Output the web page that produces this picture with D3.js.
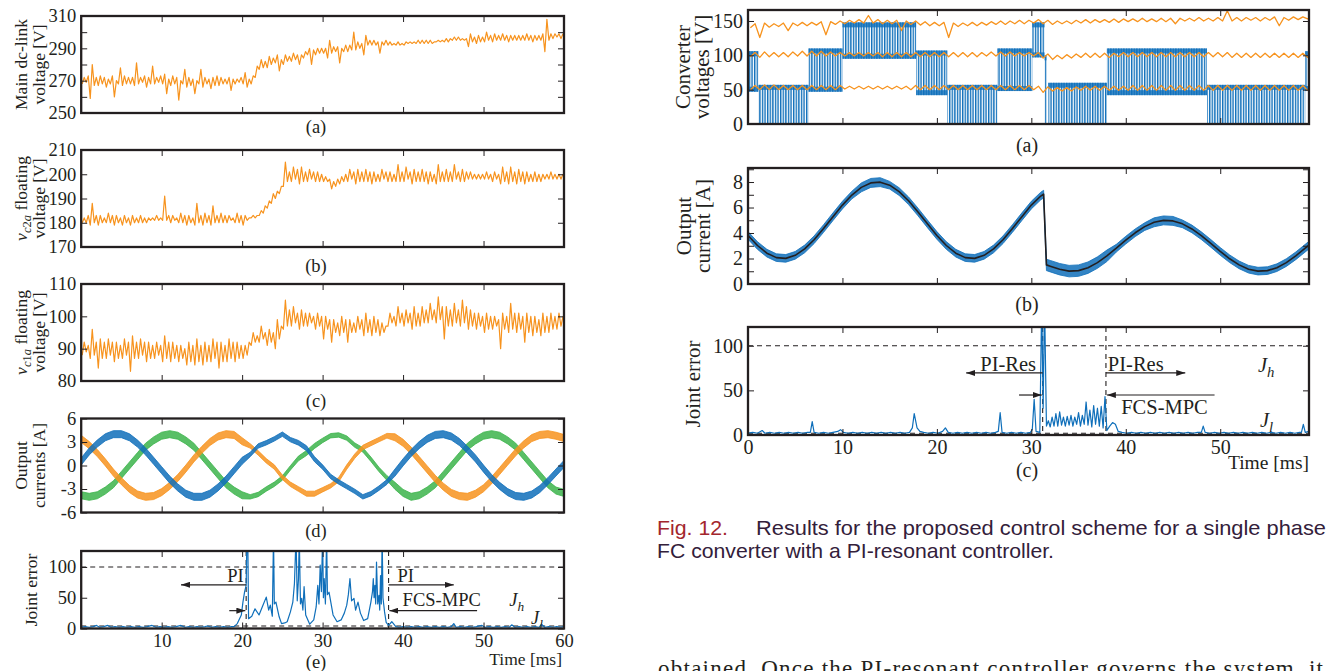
<!DOCTYPE html>
<html>
<head>
<meta charset="utf-8">
<script src="https://cdn.jsdelivr.net/npm/d3@7"></script>
<style>
  body { margin: 0; background: #fff; }
  svg { display: block; }
</style>
</head>
<body>
<svg id="fig" width="1327" height="671"></svg>
<script>
// ---- data ----
// left column, 0.5 ms bins (min / max of the trace inside each bin)
const dcLinkLo = [268,269,259,267,267,268,266,268,260,268, 267,268,268,267,268,269,266,268,268,269,
  268,262,267,268,258,268,266,267,262,268, 266,268,265,267,267,268,268,264,268,269,
  268,266,268,272,277,278,278,280,281,276, 280,282,282,283,280,284,286,280,286,287,
  287,284,287,288,281,288,288,289,289,290, 286,292,292,292,287,292,292,292,292,292,
  292,293,293,293,293,293,293,293,294,294, 294,294,295,295,295,295,291,294,293,294,
  294,295,294,295,295,295,294,295,295,295, 295,295,294,295,295,288,295,296,297,296];
const dcLinkHi = [272,273,280,272,273,272,271,273,270,278, 273,272,272,281,272,273,272,279,272,273,
  274,271,273,272,270,277,272,271,270,277, 272,271,272,273,272,271,272,271,271,272,
  275,271,273,279,283,282,285,284,286,283, 286,285,287,286,286,288,290,289,290,290,
  290,295,291,291,290,292,292,300,294,293, 298,295,295,294,294,295,294,293,294,293,
  294,294,294,295,295,295,295,294,295,295, 296,296,297,297,296,296,299,297,298,297,
  300,298,299,298,299,298,298,298,298,298, 299,298,298,298,299,308,299,299,299,299];

const vc2aLo = [180,180,179,180,179,180,180,180,179,180, 179,180,179,180,180,180,180,181,181,181,
  181,181,180,181,180,180,179,180,179,180, 179,180,179,180,180,180,180,181,180,180,
  179,181,182,182,183,184,186,188,190,192, 195,197,197,198,196,197,197,198,197,197,
  197,197,194,195,196,197,197,198,196,197, 197,197,196,197,197,198,197,197,197,197,
  197,198,196,197,197,197,196,197,196,197, 197,197,197,198,197,197,198,198,198,198,
  198,198,197,198,196,197,196,197,196,197, 196,197,197,197,197,198,198,198,198,198];
const vc2aHi = [182,183,188,183,183,182,184,183,183,182, 183,182,183,182,183,182,182,182,183,182,
  191,183,183,182,184,183,183,182,188,183, 184,183,187,183,184,183,183,182,184,183,
  183,182,183,183,185,187,189,192,193,195, 205,201,203,202,203,201,202,201,201,200,
  199,198,197,198,199,200,202,201,202,201, 202,201,201,200,202,201,201,200,204,201,
  203,201,202,201,202,201,201,200,204,201, 202,201,204,201,202,201,201,200,200,200,
  201,200,201,200,203,201,203,201,202,201, 201,200,201,200,200,200,201,200,200,200];

const vc1aLo = [88,89,87,88,84,87,87,88,86,87, 87,88,83,87,87,88,86,87,87,88,
  86,87,86,87,86,87,85,86,85,86, 85,86,86,87,84,86,86,87,86,87,
  87,88,91,92,92,93,91,92,90,93, 96,97,97,98,96,97,97,98,96,97,
  93,96,92,95,94,95,92,95,95,96, 94,95,94,95,94,95,97,98,97,98,
  97,98,96,97,97,98,98,99,98,99, 93,97,97,98,97,98,96,97,96,97,
  95,96,96,97,90,96,95,96,95,96, 92,95,94,95,94,95,95,96,96,97];
const vc1aHi = [92,91,96,92,93,92,93,92,92,91, 93,92,94,92,93,92,92,91,92,91,
  94,92,92,91,91,90,92,91,93,91, 92,91,93,92,92,91,93,92,92,91,
  91,92,95,94,97,95,96,95,99,97, 105,102,103,101,102,101,101,100,101,100,
  100,99,99,98,100,99,99,98,100,99, 101,99,100,99,98,97,101,100,103,101,
  102,101,103,101,103,102,104,102,106,103, 103,102,104,102,105,103,102,101,101,100,
  101,100,100,99,101,100,104,101,101,100, 101,100,100,99,101,100,101,100,101,100];

// output currents, value at every ms (0..60) and ripple half-width
const iBlue   = [0.5,1.8,2.8,3.6,4.0,4.0,3.6,2.8,1.8,0.6,-0.6,-1.8,-2.8,-3.6,-4.0,-4.0,-3.6,-2.8,-1.8,-0.6,0.6,1.4,2.5,2.9,3.4,4.0,3.3,2.9,2.2,0.8,-0.2,-1.4,-2.1,-2.7,-3.3,-4.0,-3.6,-2.9,-2.1,-0.9,0.4,1.6,2.6,3.4,3.9,4.0,3.7,3.0,2.0,0.9,-0.4,-1.6,-2.6,-3.4,-3.9,-4.0,-3.7,-3.0,-2.0,-0.9,0.2];
const iOrange = [3.4,2.6,1.6,0.4,-0.9,-2.0,-3.0,-3.7,-4.0,-3.9,-3.4,-2.6,-1.6,-0.4,0.9,2.0,3.0,3.7,4.0,3.9,3.1,2.5,1.6,0.6,-0.2,-1.5,-2.4,-3.0,-3.6,-3.6,-3.1,-2.6,-1.8,-0.2,1.2,2.3,2.8,3.3,3.8,3.6,2.9,1.9,0.7,-0.5,-1.7,-2.7,-3.5,-3.9,-4.0,-3.6,-2.9,-1.9,-0.7,0.5,1.7,2.7,3.5,3.9,4.0,3.8,3.5];
const iGreen  = [-3.8,-4.0,-3.8,-3.2,-2.4,-1.2,0,1.2,2.4,3.2,3.8,4.0,3.8,3.2,2.4,1.2,0,-1.2,-2.4,-3.2,-3.8,-4.0,-3.7,-3.0,-2.4,-1.6,-0.3,0.9,1.6,2.5,3.2,3.8,3.9,3.5,2.6,2.0,0.8,-0.5,-1.6,-2.6,-3.5,-4.0,-3.8,-3.2,-2.4,-1.2,0,1.2,2.4,3.2,3.8,4.0,3.8,3.2,2.4,1.2,0,-1.2,-2.4,-3.2,-3.5];
const iRipple = [0.45,0.45,0.45,0.45,0.45,0.45,0.45,0.45,0.45,0.45,0.45,0.45,0.45,0.45,0.45,0.45,0.45,0.45,0.45,0.45,0.45,0.28,0.28,0.28,0.28,0.28,0.28,0.3,0.32,0.32,0.28,0.28,0.28,0.28,0.28,0.28,0.28,0.28,0.3,0.45,0.45,0.45,0.45,0.45,0.45,0.45,0.45,0.45,0.45,0.45,0.45,0.45,0.45,0.45,0.45,0.45,0.45,0.45,0.45,0.45,0.45];

// joint error [ms, value]
const jointLeft = [[0,2],[0.5,3],[1,2],[1.5,3],[1.9,5],[2.3,2],[2.8,3],[3.3,5],[3.7,2],[4.2,3],[4.7,2],[5.2,3],[5.7,2],[6.2,3],[6.7,2],[7.2,3],[7.7,2],[8.2,3],[8.8,5],[9.3,2],[9.8,3],[10.3,2],[10.8,3],[11.3,2],[11.8,3],[12.4,5],[12.9,2],[13.4,3],[13.9,2],[14.4,3],[14.9,2],[15.4,3],[15.7,4],[16.2,2],[16.7,3],[17.2,2],[17.7,3],[18.2,2],[18.7,3],[19,3],[19.4,8],[19.9,22],[20.1,43],[20.3,59],[20.5,70],[20.6,150],[20.7,150],[20.8,16],[21.2,20],[21.6,32],[22.1,22],[22.5,35],[23,51],[23.3,30],[23.5,38],[23.75,20],[23.9,150],[24,40],[24.2,43],[24.6,19],[24.9,8],[25.3,9],[25.6,11],[26,27],[26.3,43],[26.5,73],[26.7,150],[26.85,45],[27,80],[27.1,150],[27.25,40],[27.4,49],[27.55,30],[27.7,68],[27.9,22],[28.4,7],[28.9,14],[29.2,35],[29.4,70],[29.55,40],[29.7,103],[29.85,60],[30,150],[30.1,50],[30.2,81],[30.35,40],[30.5,150],[30.6,55],[30.8,59],[31.3,22],[31.8,11],[32.3,14],[32.7,25],[33,38],[33.2,55],[33.4,81],[33.6,45],[33.9,49],[34.1,30],[34.4,43],[34.7,25],[35.1,13],[35.6,16],[36,43],[36.2,60],[36.3,81],[36.4,50],[36.5,70],[36.6,40],[36.7,108],[36.85,40],[37,54],[37.1,30],[37.2,86],[37.3,40],[37.4,150],[37.5,50],[37.7,27],[37.9,10],[38.2,5],[38.6,11],[39.1,3],[39.5,2],[40,3],[40.5,2],[41,3],[41.5,2],[42,3],[42.5,2],[43,3],[43.5,2],[44,3],[44.5,2],[45,3],[45.5,2],[46,3],[46.3,8],[46.6,2],[47.1,3],[47.6,2],[48.1,3],[48.6,2],[49.1,3],[49.8,5],[50.2,2],[50.7,3],[51.2,2],[51.7,3],[52.2,2],[52.7,3],[53.2,2],[53.5,6],[53.9,2],[54.4,3],[54.9,2],[55.4,3],[55.9,2],[56.4,3],[56.9,2],[57.2,7],[57.6,2],[58.1,3],[58.6,2],[59.1,3],[59.6,2],[60,3]];
const jointLeftSwitch = [20.5, 38.2];
const jointLeftLevels = [100, 4];

// right column: converter voltages, 1 ms bins
const convTopLo = [140,126,141,142,136,143,143,144,130,145,146,147,147,147,146,146,136,145,144,143,143,126,142,143,143,144,145,145,146,146,147,146,145,146,146,147,147,148,148,148,149,149,149,149,149,146,150,150,150,150,150,150,150,151,150,151,143,151,152,153];
const convTopHi = [146,147,146,147,147,148,148,149,149,150,151,152,158,152,151,151,150,150,149,148,148,147,147,148,148,149,150,150,151,151,152,151,150,150,151,152,152,152,153,153,153,154,153,154,154,154,154,155,154,155,165,155,155,155,155,156,155,156,156,157];
const convMidLo = [98,97,98,98,98,99,99,99,99,99,99,99,99,99,98,98,98,98,98,98,98,98,98,98,98,99,99,99,99,99,99,96,94,95,96,97,97,97,97,98,98,98,98,98,98,98,98,98,98,98,98,97,97,97,97,97,97,97,97,97];
const convMidHi = [104,105,104,104,105,106,106,106,105,104,104,104,104,104,104,104,104,104,104,104,104,104,104,104,104,105,105,105,104,104,104,102,100,101,102,103,103,103,103,104,104,104,104,104,104,104,104,104,104,104,104,103,103,103,103,103,103,103,103,103];
const convLowLo = [50,50,50,50,50,50,50,50,50,50,51,51,51,51,51,51,51,50,50,50,50,50,50,50,50,50,50,50,50,50,50,46,48,48,48,49,49,49,49,49,49,49,49,49,49,49,49,49,49,49,49,49,49,49,49,49,49,49,49,49];
const convLowHi = [56,57,57,56,56,56,56,56,56,56,55,55,55,55,55,55,55,56,56,56,56,56,56,56,56,56,56,56,56,56,55,54,53,53,54,55,55,55,55,55,56,56,56,56,56,56,56,56,56,56,56,56,56,56,56,56,56,56,56,56];
// switching intervals of the output voltage [from ms, to ms, low V, high V]
const convSwitching = [[0,1.1,47,106],[1.1,6.4,0,57],[6.4,10,47,110],[10,17.8,95,148],[17.8,21.1,42,107],[21.1,26.4,0,57],[26.4,30.1,48,110],[30.1,31.4,97,148],[31.4,31.6,0,100],[31.8,38,0,60],[38,48.6,42,110],[48.6,59,0,57],[59,59.4,48,106]];

// output current and its reference
const ioutT   = [0,1,2,3,4,5,6,7,8,9,10,11,12,13,14,15,16,17,18,19,20,21,22,23,24,25,26,27,28,29,30,31,31.3,31.6,32,33,34,35,36,37,38,39,40,41,42,43,44,45,46,47,48,49,50,51,52,53,54,55,56,57,58,59,59.4];
const ioutRef = [3.81,3.02,2.42,2.07,2.01,2.25,2.75,3.47,4.35,5.28,6.19,6.98,7.58,7.93,7.99,7.75,7.25,6.53,5.65,4.72,3.81,3.02,2.42,2.07,2.01,2.25,2.75,3.47,4.35,5.28,6.19,6.9,7.05,1.5,1.4,1.16,1.01,1.05,1.28,1.68,2.21,2.81,3.44,4.02,4.5,4.84,4.99,4.95,4.72,4.32,3.79,3.19,2.56,1.98,1.5,1.16,1.01,1.05,1.28,1.68,2.21,2.81,3.05];
const ioutRip = [0.3,0.3,0.3,0.3,0.3,0.3,0.3,0.3,0.3,0.3,0.3,0.3,0.35,0.35,0.35,0.3,0.3,0.3,0.3,0.3,0.3,0.3,0.3,0.3,0.3,0.3,0.3,0.3,0.3,0.3,0.3,0.3,0.3,0.45,0.45,0.45,0.45,0.45,0.45,0.45,0.45,0.3,0.3,0.3,0.3,0.35,0.35,0.35,0.3,0.3,0.3,0.3,0.3,0.3,0.3,0.3,0.3,0.3,0.3,0.3,0.3,0.3,0.3];

const jointRight = [[0,2],[0.5,3],[1,2],[1.5,5],[1.8,2],[2.3,3],[2.8,2],[3.3,3],[3.8,2],[4.3,3],[4.8,2],[5.3,3],[5.8,2],[6.3,3],[6.6,3],[6.8,15],[7,3],[7.5,2],[8,3],[8.5,2],[9,3],[9.5,4],[9.8,6],[10.1,3],[10.6,2],[11.1,3],[11.6,2],[12.1,3],[12.6,2],[13.1,3],[13.6,2],[14.1,3],[14.6,2],[15.1,3],[15.6,2],[16.1,3],[16.6,2],[17.1,3],[17.4,8],[17.6,24],[17.9,8],[18.2,4],[18.6,3],[19.1,2],[19.6,3],[20.1,2],[20.6,4],[20.9,8],[21.2,3],[21.7,2],[22.2,3],[22.7,2],[23.2,3],[23.7,2],[24.2,3],[24.7,2],[25.2,3],[25.7,2],[26.2,3],[26.5,4],[26.7,25],[26.9,3],[27.4,2],[27.9,3],[28.4,2],[28.9,3],[29.4,2],[29.9,3],[30.1,6],[30.3,40],[30.5,4],[30.9,3],[31.1,150],[31.25,30],[31.4,150],[31.6,10],[31.8,16],[32,9],[32.2,20],[32.4,10],[32.6,24],[32.8,10],[33,26],[33.2,11],[33.4,20],[33.6,10],[33.8,21],[34,11],[34.2,22],[34.4,10],[34.6,20],[34.8,12],[35,25],[35.2,10],[35.4,22],[35.6,12],[35.8,37],[36,11],[36.2,28],[36.4,9],[36.6,33],[36.8,12],[37,30],[37.2,10],[37.4,32],[37.6,8],[37.8,43],[38,5],[38.3,10],[38.6,14],[38.9,12],[39.2,4],[39.6,3],[40.1,2],[40.6,3],[41.1,2],[41.6,3],[42.1,2],[42.6,3],[43.1,2],[43.6,3],[44.1,2],[44.6,3],[45.1,2],[45.6,3],[46.1,2],[46.6,3],[47.1,2],[47.6,3],[48,3],[48.2,10],[48.4,3],[48.9,2],[49.4,3],[49.9,2],[50.4,3],[50.9,2],[51.4,3],[51.9,2],[52.4,3],[52.9,2],[53.4,3],[53.9,2],[54.4,3],[54.9,2],[55.4,3],[55.9,2],[56.4,3],[56.9,2],[57.4,3],[57.9,2],[58.4,3],[58.6,3],[58.8,12],[59,3],[59.4,4]];
const jointRightSwitch = [31.2, 37.9];
const jointRightLevels = [100, 2];

// ---- drawing ----
const INK = '#231f20';
const ORANGE = '#f7931e';
const BLUE = '#0f6fba';
const GREEN = '#3cb44b';
const SERIF = '"Liberation Serif", "Times New Roman", serif';
const SANS = '"Liberation Sans", Arial, sans-serif';
const TICK = 6;

const svg = d3.select('#fig');
const defs = svg.append('defs');

defs.append('marker')
  .attr('id', 'head')
  .attr('markerUnits', 'userSpaceOnUse')
  .attr('markerWidth', 9).attr('markerHeight', 6)
  .attr('refX', 9).attr('refY', 3)
  .attr('orient', 'auto')
  .append('path').attr('d', 'M0,0L9,3L0,6Z').attr('fill', INK);

defs.append('pattern')
  .attr('id', 'hatch')
  .attr('patternUnits', 'userSpaceOnUse')
  .attr('width', 2.6).attr('height', 10)
  .append('rect').attr('width', 1.4).attr('height', 10).attr('fill', BLUE);

function panel(o) {
  const x = d3.scaleLinear().domain(o.xd).range([o.x0, o.x1]);
  const y = d3.scaleLinear().domain(o.yd).range([o.y1, o.y0]);
  const cid = 'clip-' + o.id;
  defs.append('clipPath').attr('id', cid).append('rect')
    .attr('x', o.x0).attr('y', o.y0)
    .attr('width', o.x1 - o.x0).attr('height', o.y1 - o.y0);

  const g = svg.append('g');
  const plot = g.append('g').attr('clip-path', `url(#${cid})`);
  const axes = g.append('g');
  const ylab = v => (o.yl.includes(v) ? String(v) : '');

  axes.append('g').attr('transform', `translate(${o.x0},0)`)
    .call(d3.axisLeft(y).tickValues(o.yt).tickSize(-TICK).tickPadding(5).tickFormat(ylab));
  axes.append('g').attr('transform', `translate(${o.x1},0)`)
    .call(d3.axisRight(y).tickValues(o.yt).tickSize(-TICK).tickFormat(''));
  axes.append('g').attr('transform', `translate(0,${o.y0})`)
    .call(d3.axisTop(x).tickValues(o.xt).tickSize(-TICK).tickFormat(''));
  axes.append('g').attr('transform', `translate(0,${o.y1})`)
    .call(d3.axisBottom(x).tickValues(o.xt).tickSize(-TICK).tickPadding(5)
      .tickFormat(o.xl ? d => String(d) : ''));

  axes.selectAll('.domain').remove();
  axes.selectAll('line').attr('stroke', INK).attr('stroke-width', 1);
  axes.selectAll('text').attr('font-family', SERIF).attr('font-size', o.fs).attr('fill', INK);

  g.append('rect')
    .attr('x', o.x0).attr('y', o.y0)
    .attr('width', o.x1 - o.x0).attr('height', o.y1 - o.y0)
    .attr('fill', 'none').attr('stroke', INK).attr('stroke-width', 2.3);

  return { x, y, plot, g, o };
}

// min / max of each bin, visited alternately
function zigzag(lo, hi, step) {
  return lo.flatMap((v, i) => [[(i + 0.25) * step, v], [(i + 0.75) * step, hi[i]]]);
}

function trace(p, pts, color, w) {
  p.plot.append('path')
    .datum(pts)
    .attr('d', d3.line().x(d => p.x(d[0])).y(d => p.y(d[1])))
    .attr('fill', 'none').attr('stroke', color)
    .attr('stroke-width', w || 1.2).attr('stroke-linejoin', 'round');
}

function band(p, ts, mid, rip, color) {
  p.plot.append('path')
    .datum(mid)
    .attr('d', d3.area()
      .x((d, i) => p.x(ts[i]))
      .y0((d, i) => p.y(d - rip[i]))
      .y1((d, i) => p.y(d + rip[i])))
    .attr('fill', color).attr('fill-opacity', 0.85)
    .attr('stroke', color).attr('stroke-width', 0.8);
}

function yTitle(lines, xs, cy, fs) {
  lines.forEach((ln, i) => {
    const t = svg.append('text')
      .attr('transform', `translate(${xs[i]},${cy}) rotate(-90)`)
      .attr('text-anchor', 'middle')
      .attr('font-family', SERIF).attr('font-size', fs).attr('fill', INK);
    if (typeof ln === 'string') { t.text(ln); return; }
    ln.forEach(part => {
      t.append('tspan')
        .attr('font-style', part.i ? 'italic' : null)
        .attr('font-size', part.sub ? fs * 0.72 : null)
        .attr('dy', part.dy || null)
        .text(part.s);
    });
  });
}

function sublabel(text, cx, y, fs) {
  svg.append('text').attr('x', cx).attr('y', y)
    .attr('text-anchor', 'middle')
    .attr('font-family', SERIF).attr('font-size', fs).attr('fill', INK)
    .text(text);
}

function note(p, text, t, v, anchor, fs) {
  p.g.append('text').attr('x', p.x(t)).attr('y', p.y(v))
    .attr('text-anchor', anchor)
    .attr('font-family', SERIF).attr('font-size', fs).attr('fill', INK)
    .text(text);
}

function jLabel(p, sub, t, v, fs) {
  const txt = p.g.append('text').attr('x', p.x(t)).attr('y', p.y(v))
    .attr('font-family', SERIF).attr('font-size', fs).attr('fill', INK)
    .attr('font-style', 'italic');
  txt.append('tspan').text('J');
  txt.append('tspan').attr('font-size', fs * 0.72).attr('dy', 5).text(sub);
}

function arrow(p, t0, t1, v) {
  p.g.append('line')
    .attr('x1', p.x(t0)).attr('x2', p.x(t1))
    .attr('y1', p.y(v)).attr('y2', p.y(v))
    .attr('stroke', INK).attr('stroke-width', 1.2)
    .attr('marker-end', 'url(#head)');
}

function guides(p, switches, levels) {
  levels.forEach(l => {
    p.plot.append('line')
      .attr('x1', p.o.x0).attr('x2', p.o.x1)
      .attr('y1', p.y(l)).attr('y2', p.y(l))
      .attr('stroke', INK).attr('stroke-width', 1.1).attr('stroke-dasharray', '5,4');
  });
  switches.forEach(s => {
    p.plot.append('line')
      .attr('x1', p.x(s)).attr('x2', p.x(s))
      .attr('y1', p.o.y0).attr('y2', p.o.y1)
      .attr('stroke', INK).attr('stroke-width', 1.1).attr('stroke-dasharray', '5,4');
  });
}

const leftCol = { x0: 81.2, x1: 564, xd: [0, 60], xt: [10, 20, 30, 40, 50, 60], fs: 18.5 };
const rightCol = { x0: 748, x1: 1309, xd: [0, 59.4], xt: [0, 10, 20, 30, 40, 50], fs: 20 };

// (a) main dc-link voltage
const pa = panel({ ...leftCol, id: 'la', y0: 16, y1: 113, yd: [250, 310],
  yt: [250, 260, 270, 280, 290, 300, 310], yl: [250, 270, 290, 310] });
trace(pa, zigzag(dcLinkLo, dcLinkHi, 0.5), ORANGE, 1.2);

// (b) vc2a
const pb = panel({ ...leftCol, id: 'lb', y0: 150, y1: 247, yd: [170, 210],
  yt: [170, 180, 190, 200, 210], yl: [170, 180, 190, 200, 210] });
trace(pb, zigzag(vc2aLo, vc2aHi, 0.5), ORANGE, 1.2);

// (c) vc1a
const pc = panel({ ...leftCol, id: 'lc', y0: 284, y1: 381, yd: [80, 110],
  yt: [80, 90, 100, 110], yl: [80, 90, 100, 110] });
trace(pc, zigzag(vc1aLo, vc1aHi, 0.5), ORANGE, 1.2);

// (d) output currents
const pd = panel({ ...leftCol, id: 'ld', y0: 418.5, y1: 512.5, yd: [-6, 6],
  yt: [-6, -3, 0, 3, 6], yl: [-6, -3, 0, 3, 6] });
const msGrid = d3.range(iBlue.length);
band(pd, msGrid, iGreen, iRipple, GREEN);
band(pd, msGrid, iOrange, iRipple, ORANGE);
band(pd, msGrid, iBlue, iRipple, BLUE);

// (e) joint error
const pe = panel({ ...leftCol, id: 'le', y0: 551, y1: 628.5, yd: [0, 126],
  yt: [0, 50, 100], yl: [0, 50, 100], xl: true });
guides(pe, jointLeftSwitch, jointLeftLevels);
trace(pe, jointLeft, BLUE, 1.2);
note(pe, 'PI', 20.2, 76, 'end', 18.5);
arrow(pe, 20.5, 12.4, 71);
note(pe, 'PI', 39.3, 76, 'start', 18.5);
arrow(pe, 38.2, 46.3, 71);
note(pe, 'FCS-MPC', 44.8, 36, 'middle', 18.5);
arrow(pe, 49.2, 38.3, 29);
arrow(pe, 18.4, 20.4, 29);
jLabel(pe, 'h', 53.2, 36, 18.5);
jLabel(pe, 'l', 55.9, 7, 18.5);
pe.g.append('text').attr('x', 562).attr('y', 665).attr('text-anchor', 'end')
  .attr('font-family', SERIF).attr('font-size', 17.5).attr('fill', INK).text('Time [ms]');

// right (a) converter voltages
const ra = panel({ ...rightCol, id: 'ra', y0: 10, y1: 124, yd: [0, 166],
  yt: [0, 50, 100, 150], yl: [0, 50, 100, 150] });
convSwitching.forEach(([t0, t1, lo, hi]) => {
  const xa = ra.x(t0), xb = ra.x(t1), ya = ra.y(hi), yb = ra.y(lo);
  ra.plot.append('rect').attr('x', xa).attr('y', ya)
    .attr('width', xb - xa).attr('height', yb - ya).attr('fill', 'url(#hatch)');
  ra.plot.append('rect').attr('x', xa).attr('y', ya)
    .attr('width', xb - xa).attr('height', 5).attr('fill', BLUE).attr('fill-opacity', 0.8);
  if (lo > 0) {
    ra.plot.append('rect').attr('x', xa).attr('y', yb - 5)
      .attr('width', xb - xa).attr('height', 5).attr('fill', BLUE).attr('fill-opacity', 0.8);
  }
});
trace(ra, zigzag(convTopLo, convTopHi, 1), ORANGE, 1.3);
trace(ra, zigzag(convMidLo, convMidHi, 1), ORANGE, 1.3);
trace(ra, zigzag(convLowLo, convLowHi, 1), ORANGE, 1.3);

// right (b) output current
const rb = panel({ ...rightCol, id: 'rb', y0: 168, y1: 284, yd: [0, 9.1],
  yt: [0, 1, 2, 3, 4, 5, 6, 7, 8, 9], yl: [0, 2, 4, 6, 8] });
band(rb, ioutT, ioutRef, ioutRip, BLUE);
trace(rb, ioutT.map((t, i) => [t, ioutRef[i]]), INK, 1.6);

// right (c) joint error
const rc = panel({ ...rightCol, id: 'rc', y0: 327, y1: 435, yd: [0, 121],
  yt: [0, 50, 100], yl: [0, 50, 100], xl: true });
guides(rc, jointRightSwitch, jointRightLevels);
trace(rc, jointRight, BLUE, 1.2);
note(rc, 'PI-Res', 30.5, 72, 'end', 20.5);
arrow(rc, 31.2, 23.1, 69.5);
note(rc, 'PI-Res', 38.1, 72, 'start', 20.5);
arrow(rc, 37.9, 46.3, 69.5);
note(rc, 'FCS-MPC', 44.1, 23.5, 'middle', 20.5);
arrow(rc, 49.4, 38.0, 44.8);
arrow(rc, 28.7, 31.1, 44.8);
jLabel(rc, 'h', 54.0, 71, 20.5);
jLabel(rc, 'l', 54.2, 9, 20.5);
rc.g.append('text').attr('x', 1309).attr('y', 469).attr('text-anchor', 'end')
  .attr('font-family', SERIF).attr('font-size', 19.5).attr('fill', INK).text('Time [ms]');

// axis titles
yTitle(['Main dc-link', 'voltage [V]'], [27, 45], 64.5, 17.5);
yTitle([[{ s: 'v', i: 1 }, { s: 'c', i: 1, sub: 1, dy: 4 }, { s: '2', sub: 1 }, { s: 'a', i: 1, sub: 1 }, { s: ' floating', dy: -4 }],
  'voltage [V]'], [27, 45], 198.5, 17.5);
yTitle([[{ s: 'v', i: 1 }, { s: 'c', i: 1, sub: 1, dy: 4 }, { s: '1', sub: 1 }, { s: 'a', i: 1, sub: 1 }, { s: ' floating', dy: -4 }],
  'voltage [V]'], [27, 45], 332.5, 17.5);
yTitle(['Output', 'currents [A]'], [27, 45], 465.5, 17.5);
yTitle(['Joint error'], [37], 590, 17.5);
yTitle(['Converter', 'voltages [V]'], [690, 709], 67, 21);
yTitle(['Output', 'current [A]'], [691, 710], 226, 21);
yTitle(['Joint error'], [700], 384, 21);

// sub-figure labels
sublabel('(a)', 316, 133, 18.5);
sublabel('(b)', 316, 272, 18.5);
sublabel('(c)', 316, 407, 18.5);
sublabel('(d)', 316, 537, 18.5);
sublabel('(e)', 316, 668, 18.5);
sublabel('(a)', 1027, 152, 20);
sublabel('(b)', 1027, 311, 20);
sublabel('(c)', 1027, 477, 20);

// figure caption and body text
svg.append('text').attr('x', 657).attr('y', 535)
  .attr('font-family', SANS).attr('font-size', 21).attr('fill', '#a3262d')
  .attr('textLength', 71).attr('lengthAdjust', 'spacingAndGlyphs')
  .text('Fig. 12.');
svg.append('text').attr('x', 756).attr('y', 535)
  .attr('font-family', SANS).attr('font-size', 21).attr('fill', '#33203a')
  .attr('textLength', 570).attr('lengthAdjust', 'spacingAndGlyphs')
  .text('Results for the proposed control scheme for a single phase');
svg.append('text').attr('x', 657).attr('y', 558)
  .attr('font-family', SANS).attr('font-size', 21).attr('fill', '#33203a')
  .attr('textLength', 397).attr('lengthAdjust', 'spacingAndGlyphs')
  .text('FC converter with a PI-resonant controller.');
svg.append('text').attr('x', 658).attr('y', 676)
  .attr('font-family', SERIF).attr('font-size', 23).attr('fill', INK)
  .attr('textLength', 665).attr('lengthAdjust', 'spacing')
  .text('obtained. Once the PI-resonant controller governs the system, it');
</script>
</body>
</html>
